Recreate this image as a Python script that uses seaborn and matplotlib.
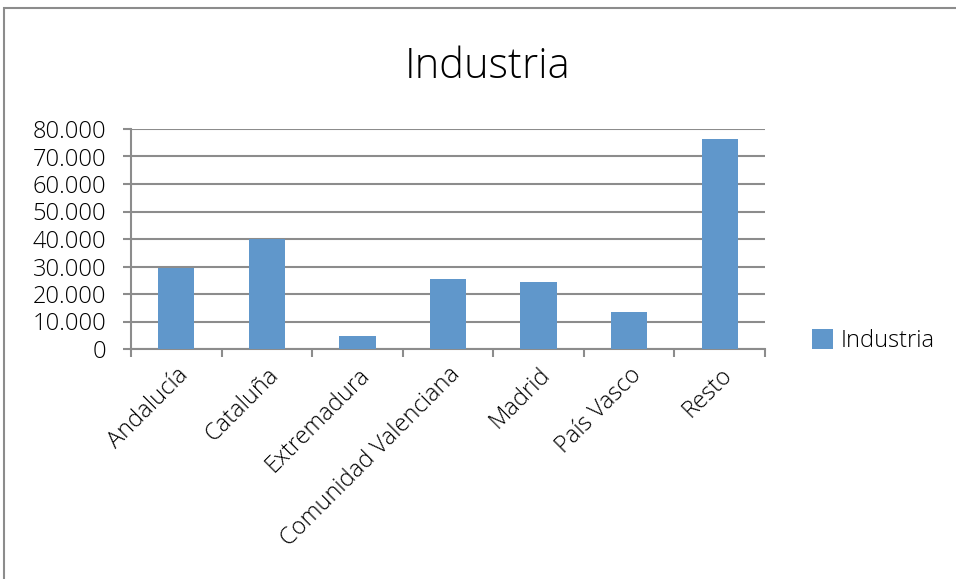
import pandas as pd
import matplotlib.pyplot as plt
import seaborn as sns
from matplotlib.patches import Rectangle
import matplotlib.ticker as ticker

regiones = ["Andalucía", "Cataluña", "Extremadura", "Comunidad Valenciana",
            "Madrid", "País Vasco", "Resto"]
industria = [29300, 40100, 4800, 25600, 24500, 13600, 76200]
y_ticks = [0, 10000, 20000, 30000, 40000, 50000, 60000, 70000, 80000]

BAR_COLOR = "#6097CB"
GRID_COLOR = "#8C8C8C"

sns.set_theme(style="white")
plt.rcParams['font.family'] = ['Open Sans', 'DejaVu Sans']
plt.rcParams['font.weight'] = 'light'

df = pd.DataFrame({"Region": regiones, "Industria": industria})

fig = plt.figure(figsize=(9.56, 5.79), dpi=100)
ax = fig.add_axes([131/956, 1-349/579, (765-131)/956, (349-129)/579])

sns.barplot(data=df, x="Region", y="Industria", color=BAR_COLOR, width=0.4,
            saturation=1, linewidth=0, label="Industria", ax=ax, zorder=3)

ax.set_ylim(0, 80000)
ax.set_xlim(-0.5, len(regiones) - 0.5)
ax.set_yticks(y_ticks)
ax.yaxis.set_major_formatter(ticker.FuncFormatter(lambda v, p: f"{int(v):,}".replace(",", ".")))
ax.grid(axis="y", color=GRID_COLOR, lw=1.5, zorder=0)
ax.set_axisbelow(True)

for s in ["top", "right"]:
    ax.spines[s].set_visible(False)
for s in ["left", "bottom"]:
    ax.spines[s].set_color(GRID_COLOR)
    ax.spines[s].set_linewidth(1.5)

ax.tick_params(axis="y", which="major", left=True, length=6, width=1.5,
               color=GRID_COLOR, labelsize=17, pad=12, labelcolor="#000000")
ax.set_xticks(range(len(regiones)))
ax.set_xticklabels(regiones, rotation=45, ha="right", rotation_mode="anchor",
                   fontsize=17, color="#000000")
ax.tick_params(axis="x", which="major", length=0, pad=10)
ax.set_xticks([i - 0.5 for i in range(len(regiones) + 1)], minor=True)
ax.tick_params(axis="x", which="minor", bottom=True, length=6, width=1.5, color=GRID_COLOR)

ax.set_xlabel("")
ax.set_ylabel("")
fig.text(488/956, 1-67/579, "Industria", ha="center", va="center", fontsize=30, color="#000000")

leg = ax.legend(loc="center left", bbox_to_anchor=(800/956, 1-341/579),
                bbox_transform=fig.transFigure, frameon=False, fontsize=17,
                handlelength=0.9, handleheight=0.9, handletextpad=0.3, borderpad=0)
for t in leg.get_texts():
    t.set_color("#000000")

fig.patches.append(Rectangle((4/956, -0.05), 1.0, 1-8/579+0.05, transform=fig.transFigure,
                             fill=False, edgecolor="#8C8C8C", lw=1.5))

fig.savefig("out.png", dpi=100)
